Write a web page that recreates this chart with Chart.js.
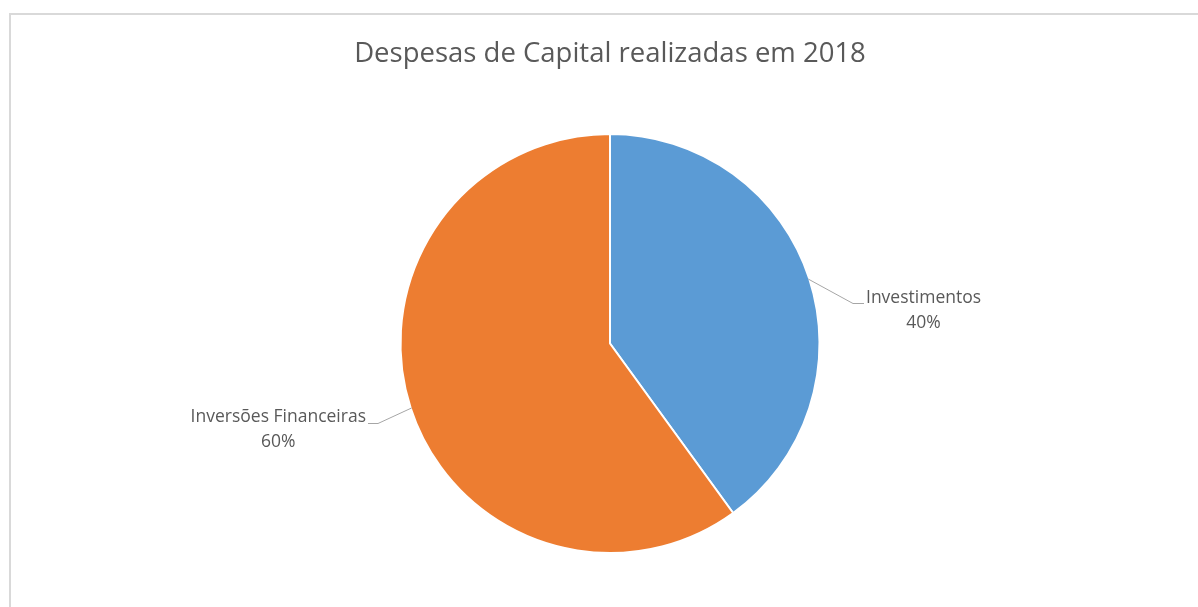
<!DOCTYPE html>
<html>
<head>
<meta charset="utf-8">
<script src="https://cdn.jsdelivr.net/npm/chart.js@4"></script>
<style>
  html, body { margin: 0; padding: 0; background: #ffffff; }
  #wrap { position: relative; width: 1198px; height: 607px; overflow: hidden; }
  #c { position: absolute; left: 0; top: 0; }
  #frame { position: absolute; left: 9px; top: 13px; width: 1300px; height: 700px;
           border: 2px solid #d9d9d9; box-sizing: border-box; pointer-events: none; }
</style>
</head>
<body>
<div id="wrap">
  <canvas id="c" width="1198" height="607"></canvas>
  <div id="frame"></div>
</div>
<script>
const titleText = 'Despesas de Capital realizadas em 2018';
const categories = ['Investimentos', 'Inversões Financeiras'];
const values = [40, 60];
const percentLabels = ['40%', '60%'];
const colors = ['#5B9BD5', '#ED7D31'];

const FONT = "'Open Sans', 'Segoe UI', sans-serif";

const leaderLabels = {
  id: 'leaderLabels',
  afterDatasetsDraw(chart, args, opts) {
    const ctx = chart.ctx;
    const meta = chart.getDatasetMeta(0);
    meta.data.forEach((arc, i) => {
      const p = arc.getProps(['x', 'y', 'startAngle', 'endAngle', 'outerRadius'], true);
      const mid = (p.startAngle + p.endAngle) / 2;
      const r = p.outerRadius - 1;
      const o = opts.anchors[i];
      const sx = p.x + Math.cos(mid) * r;
      const sy = p.y + Math.sin(mid) * r;
      const ex = p.x + o.dx;
      const ey = p.y + o.dy;
      const side = o.dx > 0 ? 1 : -1;
      const hx = ex + side * o.h;
      ctx.save();
      ctx.strokeStyle = opts.lineColor;
      ctx.lineWidth = 1;
      ctx.beginPath();
      ctx.moveTo(sx, sy);
      ctx.lineTo(ex, ey);
      ctx.lineTo(hx, ey);
      ctx.stroke();
      ctx.font = opts.font;
      ctx.fillStyle = opts.color;
      ctx.textBaseline = 'middle';
      ctx.textAlign = 'center';
      const name = chart.data.labels[i];
      const w = ctx.measureText(name).width;
      const cx = side > 0 ? hx + 2 + w / 2 : hx - 2 - w / 2;
      ctx.fillText(name, cx, ey + o.ty);
      ctx.fillText(percentLabels[i], cx, ey + o.ty + opts.lineGap);
      ctx.restore();
    });
  }
};

new Chart(document.getElementById('c'), {
  type: 'pie',
  data: {
    labels: categories,
    datasets: [{
      data: values,
      backgroundColor: colors,
      borderColor: '#ffffff',
      borderWidth: 2
    }]
  },
  options: {
    responsive: false,
    animation: false,
    events: [],
    layout: { padding: { left: 22, right: 0, top: 0, bottom: 53 } },
    plugins: {
      legend: { display: false },
      tooltip: { enabled: false },
      title: {
        display: true,
        text: titleText,
        color: '#595959',
        font: { family: FONT, size: 27.5, weight: 'normal' },
        padding: { top: 38, bottom: 62 }
      },
      leaderLabels: {
        font: "17.5px " + FONT,
        color: '#595959',
        lineColor: '#a6a6a6',
        lineGap: 25,
        anchors: [
          { dx: 243, dy: -40, h: 11, ty: -5 },
          { dx: -232, dy: 80, h: 10, ty: -6 }
        ]
      }
    }
  },
  plugins: [leaderLabels]
});
</script>
</body>
</html>
